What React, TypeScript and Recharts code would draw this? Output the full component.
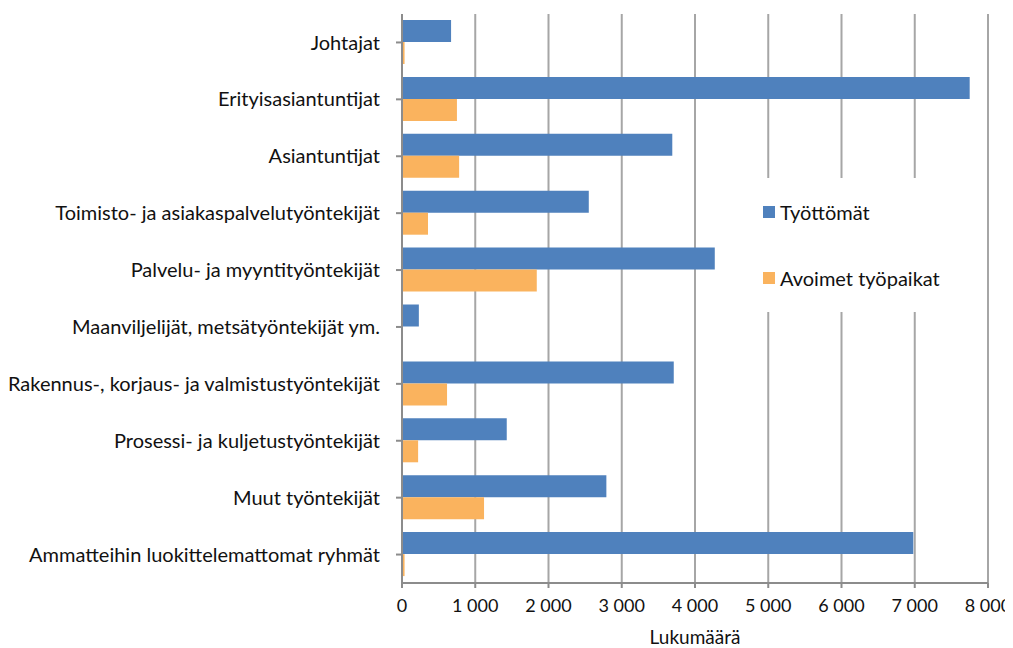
import React from 'react';
import { BarChart, Bar, XAxis, YAxis, CartesianGrid, Legend, Label } from 'recharts';

const categories = [
  'Johtajat',
  'Erityisasiantuntijat',
  'Asiantuntijat',
  'Toimisto- ja asiakaspalvelutyöntekijät',
  'Palvelu- ja myyntityöntekijät',
  'Maanviljelijät, metsätyöntekijät ym.',
  'Rakennus-, korjaus- ja valmistustyöntekijät',
  'Prosessi- ja kuljetustyöntekijät',
  'Muut työntekijät',
  'Ammatteihin luokittelemattomat ryhmät',
];
const tyottomat = [670, 7750, 3690, 2550, 4270, 230, 3710, 1430, 2790, 6980];
const avoimet = [35, 750, 780, 355, 1840, 5, 615, 220, 1120, 35];
const xTicks = [0, 1000, 2000, 3000, 4000, 5000, 6000, 7000, 8000];

const data = categories.map((name, i) => ({ name, tyottomat: tyottomat[i], avoimet: avoimet[i] }));

const BLUE = '#4F81BD';
const ORANGE = '#FAB35E';
const FONT = 'Lato, "Open Sans", sans-serif';

const fmt = (v: number) => (v >= 1000 ? `${Math.floor(v / 1000)}\u00a0${String(v % 1000).padStart(3, '0')}` : String(v));

const LegendBox = () => (
  <div style={{ background: '#fff', width: 236, height: 134, position: 'relative', fontFamily: FONT, fontSize: 20, color: '#111' }}>
    {[{ c: BLUE, t: 'Työttömät', y: 34 }, { c: ORANGE, t: 'Avoimet työpaikat', y: 100 }].map((it) => (
      <div key={it.t} style={{ position: 'absolute', left: 13, top: it.y - 12, height: 24, display: 'flex', alignItems: 'center', whiteSpace: 'nowrap' }}>
        <span style={{ display: 'inline-block', width: 12, height: 12, background: it.c, marginRight: 5 }} />
        <span>{it.t}</span>
      </div>
    ))}
  </div>
);

export default function App() {
  return (
    <div style={{ width: 1005, height: 640, fontFamily: FONT }}>
      <style>{`html, body { overflow: hidden; }`}</style>
      <BarChart
        width={1005}
        height={640}
        data={data}
        layout="vertical"
        margin={{ top: 6, right: 25, bottom: 0, left: 0 }}
        barGap={0}
        barSize={22}
      >
        <CartesianGrid horizontal={false} vertical={true} stroke="#A6A6A6" strokeWidth={2} />
        <XAxis
          type="number"
          domain={[0, 8000]}
          ticks={xTicks}
          tickFormatter={fmt}
          height={65}
          tickSize={5}
          tickMargin={11}
          stroke="#8c8c8c"
          strokeWidth={2}
          tick={{ fill: '#111', fontSize: 18, fontFamily: FONT }}
        >
          <Label value="Lukumäärä" position="insideBottom" offset={4} style={{ fill: '#111', fontSize: 19, fontFamily: FONT }} />
        </XAxis>
        <YAxis
          type="category"
          dataKey="name"
          width={394}
          tickSize={6}
          tickMargin={16}
          stroke="#8c8c8c"
          strokeWidth={2}
          interval={0}
          tick={{ fill: '#111', fontSize: 20, fontFamily: FONT }}
        />
        <Legend
          layout="vertical"
          align="center"
          verticalAlign="middle"
          content={<LegendBox />}
          wrapperStyle={{ position: 'absolute', left: 742, top: 170, width: 236, height: 134 }}
        />
        <Bar dataKey="tyottomat" name="Työttömät" fill={BLUE} isAnimationActive={false} />
        <Bar dataKey="avoimet" name="Avoimet työpaikat" fill={ORANGE} isAnimationActive={false} />
      </BarChart>
    </div>
  );
}
